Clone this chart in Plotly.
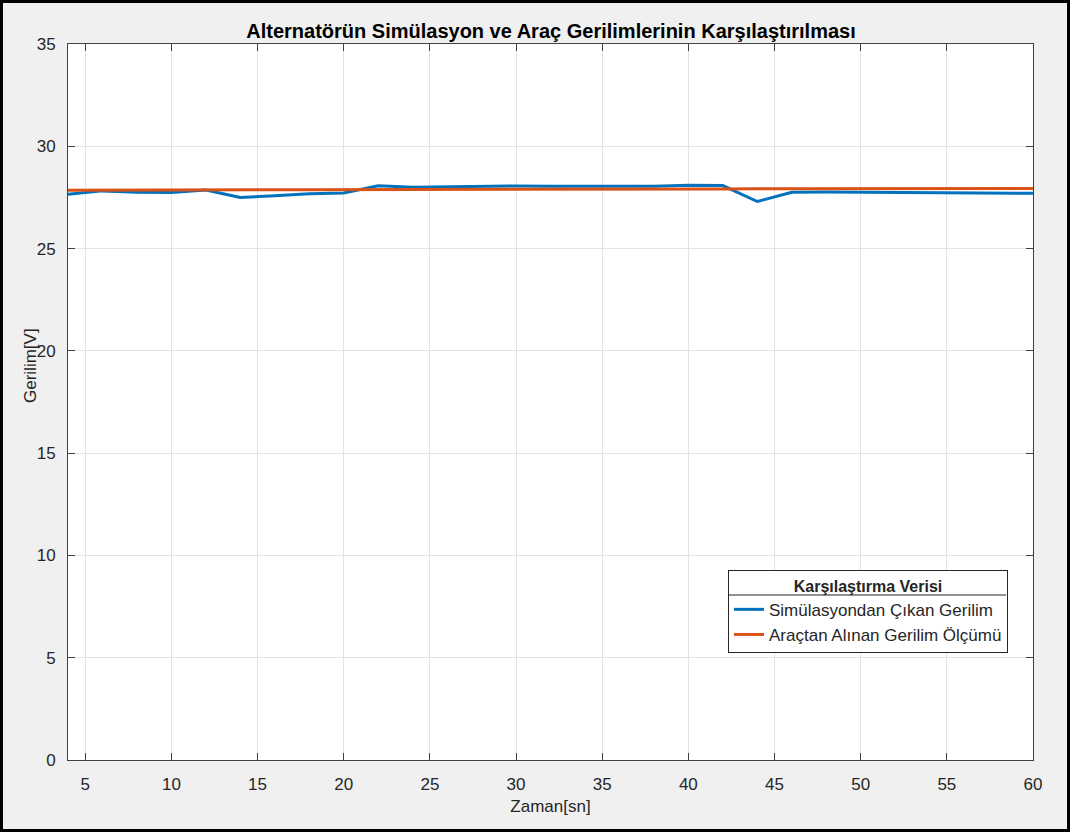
import plotly.graph_objects as go

time_s = [4, 6, 8, 10, 12, 14, 16, 18, 20, 22, 24, 26, 28, 30, 32, 34, 36, 38, 40, 42,
          44, 46, 48, 50, 52, 54, 56, 58, 60]
sim_voltage = [27.65, 27.82, 27.75, 27.74, 27.86, 27.50, 27.58, 27.68, 27.72, 28.07,
               28.00, 28.02, 28.07, 28.06, 28.05, 28.04, 28.05, 28.05, 28.10, 28.08,
               27.30, 27.75, 27.77, 27.76, 27.73, 27.74, 27.70, 27.70, 27.70]
meas_voltage = [27.85, 27.86, 27.86, 27.87, 27.87, 27.87, 27.88, 27.88, 27.88, 27.89,
                27.89, 27.89, 27.90, 27.90, 27.90, 27.90, 27.91, 27.91, 27.91, 27.91,
                27.92, 27.92, 27.92, 27.92, 27.93, 27.93, 27.93, 27.93, 27.94]
x_ticks = [5, 10, 15, 20, 25, 30, 35, 40, 45, 50, 55, 60]
y_ticks = [0, 5, 10, 15, 20, 25, 30, 35]

W, H = 1070, 832
L, R, T, B = 68, 37, 44, 72
pw, ph = W - L - R, H - T - B

def px(x):
    return (x - L) / pw

def py(y):
    return (H - B - y) / ph

font = "Liberation Sans, Arial, Helvetica, sans-serif"
axcol = "#262626"

fig = go.Figure()
fig.add_trace(go.Scatter(x=time_s, y=sim_voltage, mode="lines",
                         name="Simülasyondan Çıkan Gerilim",
                         line=dict(color="#0072BD", width=3)))
fig.add_trace(go.Scatter(x=time_s, y=meas_voltage, mode="lines",
                         name="Araçtan Alınan Gerilim Ölçümü",
                         line=dict(color="#D95319", width=3)))

axis_common = dict(showline=True, linecolor="#404040", linewidth=1, mirror="ticks",
                   ticks="inside", ticklen=7, tickcolor="#404040",
                   showgrid=True, gridcolor="#e3e3e3", gridwidth=1,
                   zeroline=False, tickfont=dict(family=font, size=17, color=axcol))

fig.update_xaxes(range=[4, 60], tickvals=x_ticks, ticklabelstandoff=9,
                 title=dict(text="Zaman[sn]", font=dict(family=font, size=17, color=axcol), standoff=6),
                 **axis_common)
fig.update_yaxes(range=[0, 35], tickvals=y_ticks, ticklabelstandoff=8,
                 **axis_common)

leg_x0, leg_x1, leg_y0, leg_y1 = 728, 1006, 570, 652

fig.update_layout(
    width=W, height=H,
    margin=dict(l=L, r=R, t=T, b=B),
    paper_bgcolor="#f0f0f0", plot_bgcolor="white",
    title=dict(text="<b>Alternatörün Simülasyon ve Araç Gerilimlerinin Karşılaştırılması</b>",
               xref="paper", x=px(551), xanchor="center",
               yref="container", y=1 - 31 / H, yanchor="middle",
               font=dict(family=font, size=20, color="black")),
    showlegend=True,
    legend=dict(x=px(leg_x0), y=py(leg_y0), xanchor="left", yanchor="top",
                bgcolor="rgba(0,0,0,0)", bordercolor="#262626", borderwidth=1,
                font=dict(family=font, size=17, color=axcol),
                title=dict(text="<b>Karşılaştırma Verisi</b>", side="top center",
                           font=dict(family=font, size=16, color=axcol)),
                itemwidth=30, tracegroupgap=0),
    annotations=[
        dict(text="Gerilim[V]", xref="paper", yref="paper", x=px(30), y=py(366),
             xanchor="center", yanchor="middle", textangle=-90, showarrow=False,
             font=dict(family=font, size=17, color=axcol)),
    ],
    shapes=[
        dict(type="rect", xref="paper", yref="paper",
             x0=px(leg_x0), x1=px(leg_x1), y0=py(leg_y1), y1=py(leg_y0),
             line=dict(width=0), fillcolor="white", layer="above"),
        dict(type="line", xref="paper", yref="paper",
             x0=px(leg_x0), x1=px(leg_x1), y0=py(595), y1=py(595),
             line=dict(color="#262626", width=1), layer="above"),
        dict(type="rect", xref="paper", yref="paper",
             x0=px(1.5), x1=px(W - 1.5), y0=py(H - 1.5), y1=py(1.5),
             line=dict(color="black", width=3), fillcolor="rgba(0,0,0,0)", layer="above"),
    ],
)

fig.write_html("out.html")
